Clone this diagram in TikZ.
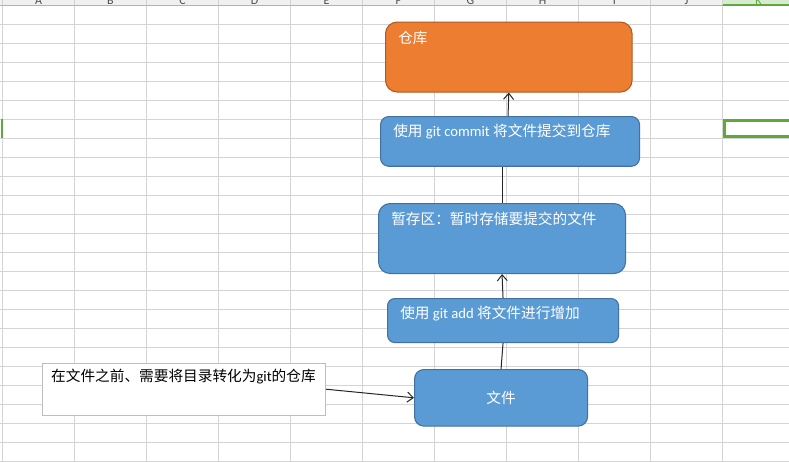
\documentclass[tikz,border=0pt]{standalone}
\usepackage{fontspec}
\setmainfont{Noto Sans CJK SC}
\newfontfamily\latn{Carlito}
\usetikzlibrary{arrows.meta}
\definecolor{XLGrid}{HTML}{D4D4D4}
\definecolor{XLHead}{HTML}{F0F0F0}
\definecolor{XLGreen}{HTML}{5FA83A}
\definecolor{XLGreenLt}{HTML}{D6EBD0}
\definecolor{OBlue}{HTML}{5B9BD5}
\definecolor{OBlueLine}{HTML}{41719C}
\definecolor{OOrange}{HTML}{ED7D31}
\definecolor{OOrangeLine}{HTML}{AE5A21}
\definecolor{NoteLine}{HTML}{BFBFBF}

\begin{document}
\begin{tikzpicture}[x=0.75pt,y=-0.75pt,
    font=\fontsize{11}{13}\selectfont,
    shp/.style={draw=OBlueLine,fill=OBlue,line width=0.8pt,anchor=north west,inner sep=0pt},
    inlbl/.style={anchor=west,inner sep=0pt,text=white,xshift=9.75pt,yshift=-12pt},
    notelbl/.style={anchor=west,inner sep=0pt,text=black,xshift=7.1pt,yshift=-10.7pt},
    conn/.style={draw=black!85,line width=0.75pt},
    arr/.style={conn,-{Straight Barb[length=4.5pt,width=7.5pt]}}]
  \clip (0,0) rectangle (789,461);
  % sheet background
  \fill[XLHead] (0,0) rectangle (789,5.3);
  \fill[XLGreenLt] (722.5,0) rectangle (789,5.3);
  \begin{scope}
    \clip (0,0) rectangle (789,5);
    \foreach \c [count=\i from 0] in {A,...,J}
      \node[text=black!70,font=\latn\fontsize{9}{9}\selectfont,anchor=base] (col\i) at (38.5+72*\i,4) {\c};
    \node[text=XLGreen,font=\latn\fontsize{9}{9}\selectfont,anchor=base] (col10) at (758.5,4) {K};
  \end{scope}
  \foreach \k in {0,...,10}
    \draw[XLGrid,line width=0.75pt] (2.5+72*\k,0) -- (2.5+72*\k,461);
  \foreach \k in {1,...,24}
    \draw[XLGrid,line width=0.75pt] (0,5.3+19*\k) -- (789,5.3+19*\k);
  \draw[black!30,line width=0.75pt] (0,5.3) -- (789,5.3);
  \draw[XLGreen,line width=1.5pt] (722.5,4.8) -- (789,4.8);
  \fill[XLGreen] (0.8,119.3) rectangle (2.8,138.3);
  \draw[XLGreen,line width=2.25pt] (724,120.8) rectangle (800,136.8);

  % shapes
  \node[shp,draw=OOrangeLine,fill=OOrange,minimum width=184.9pt,minimum height=52.5pt,rounded corners=8.75pt,
    label={[inlbl]north west:仓库}] (repo) at (385,21.5) {};
  \node[shp,minimum width=194.25pt,minimum height=37.3pt,rounded corners=6.2pt,
    label={[inlbl]north west:使用 {\latn git commit} 将文件提交到仓库}] (commit) at (380,116) {};
  \node[shp,minimum width=185.25pt,minimum height=52.5pt,rounded corners=8.75pt,
    label={[inlbl]north west:暂存区：暂时存储要提交的文件}] (stage) at (378,203) {};
  \node[shp,minimum width=173.25pt,minimum height=33pt,rounded corners=5.5pt,
    label={[inlbl]north west:使用 {\latn git add} 将文件进行增加}] (add) at (387,298) {};
  \node[shp,minimum width=129.75pt,minimum height=42.4pt,rounded corners=7pt,text=white] (file) at (414,369) {文件};
  \node[shp,draw=NoteLine,fill=white,line width=0.75pt,minimum width=212.6pt,minimum height=39pt,
    label={[notelbl]north west:在文件之前、需要将目录转化为{\latn git}的仓库}] (note) at (41.5,362.7) {};

  % connectors
  \draw[conn] (file.north) -- (add.south);
  \draw[arr] (add.north) -- (stage.south);
  \draw[conn] (stage.north) -- (stage.north |- commit.south);
  \draw[arr] ([xshift=-1.5pt]commit.north) -- (repo.south);
  \draw[arr] (note.east) -- (file.west);
\end{tikzpicture}
\end{document}
